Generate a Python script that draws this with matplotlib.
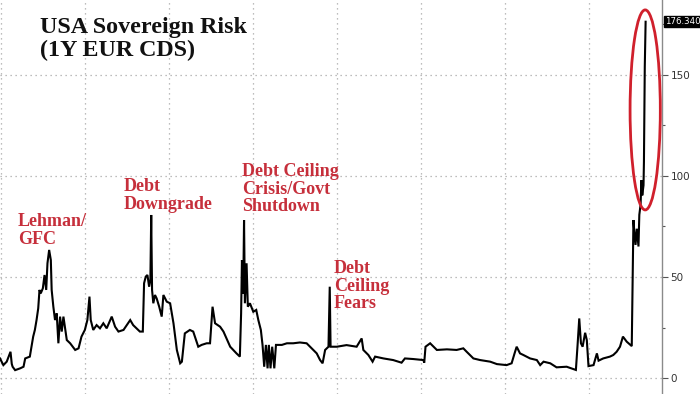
"""
USA sovereign risk, 1Y EUR CDS, with the debt ceiling spike circled.
"""
import matplotlib
matplotlib.use('Agg')
import matplotlib.pyplot as plt
from matplotlib.patches import Ellipse

# decimal years
years = [
    2008.00, 2008.08, 2008.16, 2008.25, 2008.28, 2008.30, 2008.36, 2008.48, 2008.56, 2008.60,
    2008.71, 2008.79, 2008.83, 2008.87, 2008.91, 2008.94, 2008.97, 2009.02, 2009.06, 2009.10,
    2009.13, 2009.17, 2009.21, 2009.23, 2009.27, 2009.31, 2009.35, 2009.39, 2009.43, 2009.47,
    2009.51, 2009.59, 2009.67, 2009.79, 2009.87, 2009.94, 2010.02, 2010.08, 2010.13, 2010.16,
    2010.22, 2010.30, 2010.38, 2010.46, 2010.54, 2010.66, 2010.74, 2010.82, 2010.94, 2011.10,
    2011.17, 2011.25, 2011.33, 2011.40, 2011.43, 2011.47, 2011.51, 2011.55, 2011.58, 2011.60,
    2011.62, 2011.65, 2011.69, 2011.73, 2011.79, 2011.85, 2011.89, 2011.97, 2012.05, 2012.13,
    2012.21, 2012.29, 2012.33, 2012.40, 2012.52, 2012.60, 2012.72, 2012.80, 2012.92, 2013.00,
    2013.06, 2013.12, 2013.24, 2013.32, 2013.48, 2013.63, 2013.71, 2013.74, 2013.76, 2013.79,
    2013.81, 2013.83, 2013.87, 2013.90, 2013.95, 2014.03, 2014.10, 2014.15, 2014.21, 2014.25,
    2014.29, 2014.33, 2014.37, 2014.40, 2014.44, 2014.48, 2014.53, 2014.57, 2014.71, 2014.83,
    2014.98, 2015.14, 2015.30, 2015.42, 2015.54, 2015.62, 2015.68, 2015.74, 2015.82, 2015.85,
    2015.87, 2016.02, 2016.25, 2016.49, 2016.61, 2016.65, 2016.77, 2016.87, 2016.93, 2017.13,
    2017.36, 2017.56, 2017.64, 2017.84, 2018.08, 2018.10, 2018.13, 2018.24, 2018.40, 2018.64,
    2018.87, 2019.03, 2019.11, 2019.27, 2019.43, 2019.67, 2019.83, 2020.06, 2020.18, 2020.25,
    2020.30, 2020.38, 2020.46, 2020.62, 2020.78, 2020.86, 2020.94, 2021.10, 2021.25, 2021.49,
    2021.71, 2021.75, 2021.79, 2021.83, 2021.87, 2021.93, 2021.97, 2022.01, 2022.13, 2022.21,
    2022.25, 2022.36, 2022.52, 2022.60, 2022.68, 2022.76, 2022.83, 2022.92, 2023.04, 2023.08,
    2023.10, 2023.13, 2023.16, 2023.20, 2023.22, 2023.25, 2023.27, 2023.29, 2023.32, 2023.33,
    2023.35, 2023.37,
]
cds = [
    9.7, 6.4, 8.1, 13.0, 7.0, 5.6, 3.9, 4.8, 5.6, 9.7,
    10.6, 20.5, 23.8, 28.7, 34.5, 43.6, 41.9, 44.4, 51.0, 43.6,
    56.8, 63.4, 58.4, 43.6, 35.3, 28.7, 32.0, 17.2, 30.4, 23.0,
    30.4, 18.8, 17.2, 13.9, 14.7, 20.5, 23.8, 28.7, 40.3, 28.7,
    23.8, 26.2, 24.6, 27.1, 24.6, 30.4, 25.4, 23.0, 23.8, 28.7,
    26.2, 24.6, 23.0, 23.0, 46.9, 50.2, 51.0, 45.2, 48.5, 80.7,
    43.6, 37.0, 41.1, 39.4, 35.3, 30.4, 41.1, 37.8, 37.0, 27.1,
    13.9, 7.3, 8.1, 22.1, 23.8, 23.0, 15.5, 16.4, 17.2, 17.2,
    35.3, 27.1, 25.4, 23.0, 15.5, 12.2, 10.6, 32.0, 58.4, 41.9,
    78.2, 37.0, 56.8, 35.3, 37.0, 32.8, 33.7, 28.7, 23.8, 16.4,
    5.6, 16.4, 4.8, 16.4, 4.8, 15.5, 4.8, 16.4, 16.4, 17.2,
    17.2, 17.6, 17.2, 14.7, 12.2, 8.9, 7.3, 13.9, 15.5, 45.2,
    15.5, 15.5, 16.3, 15.5, 19.6, 13.9, 11.4, 8.1, 10.6, 9.7,
    8.9, 7.6, 9.7, 9.4, 8.9, 7.6, 15.5, 17.2, 13.9, 14.2,
    13.9, 14.7, 13.0, 9.7, 8.9, 8.1, 6.9, 6.4, 7.3, 12.2,
    15.5, 12.2, 11.4, 9.7, 8.9, 6.4, 8.1, 7.3, 5.3, 5.6,
    4.0, 16.3, 29.5, 17.2, 15.5, 22.4, 18.8, 5.9, 6.4, 12.2,
    8.6, 9.7, 10.6, 11.4, 13.0, 15.5, 20.5, 18.0, 15.8, 78.2,
    72.6, 65.9, 73.9, 65.1, 80.8, 85.8, 97.9, 90.4, 95.4, 107.0,
    154.1, 176.34,
]

y_ticks = [0, 50, 100, 150]
grid_years = [2008, 2010, 2012, 2014, 2016, 2018, 2020, 2022]

title = 'USA Sovereign Risk\n(1Y EUR CDS)'
events = [
    ('Lehman/\nGFC', 2008.43, 81.7),
    ('Debt\nDowngrade', 2010.95, 99.0),
    ('Debt Ceiling\nCrisis/Govt\nShutdown', 2013.76, 106.4),
    ('Debt\nCeiling\nFears', 2015.95, 58.4),
]

RED = '#c62f3b'
GRID = '#a8a8a8'

fig = plt.figure(figsize=(7, 3.94), dpi=100)
ax = fig.add_axes([0, 0, 662 / 700, 1])

ax.plot(years, cds, color='black', linewidth=1.5, solid_joinstyle='miter')

ax.set_xlim(2008.0, 2023.76)
ax.set_ylim(-7.9, 187.1)

# grid
for g in grid_years:
    ax.axvline(g + 0.02, color=GRID, linestyle=(0, (1, 3)), linewidth=0.9, zorder=0)
for t in y_ticks:
    ax.axhline(t, color=GRID, linestyle=(0, (1, 3)), linewidth=0.9, zorder=0)

# right axis only
for s in ['left', 'top', 'bottom']:
    ax.spines[s].set_visible(False)
ax.spines['right'].set_color('#8a8a8a')
ax.spines['right'].set_linewidth(1.0)
ax.yaxis.tick_right()
ax.set_yticks(y_ticks)
ax.set_yticks([25, 75, 125, 175], minor=True)
ax.tick_params(axis='y', which='major', direction='out', length=4, width=0.8,
               colors='#555555', labelcolor='#333333', labelsize=7.5, pad=2)
ax.tick_params(axis='y', which='minor', direction='out', length=2.5, width=0.8,
               colors='#555555')
ax.set_xticks([])

# last value tag
ax.text(1.005, cds[-1], '%.3f' % cds[-1], transform=ax.get_yaxis_transform(),
        ha='left', va='center', color='white', fontsize=6.2, clip_on=False,
        bbox=dict(boxstyle='square,pad=0.12', fc='black', ec='black'))

# title and event labels
ax.text(0.060, 0.958, title, transform=ax.transAxes, ha='left', va='top',
        fontsize=17.3, fontweight='bold', family='Liberation Serif',
        color='#111111', linespacing=1.12)
for label, x, y in events:
    ax.text(x, y, label, ha='left', va='top', fontsize=13, fontweight='bold',
            family='Liberation Serif', color=RED, linespacing=1.05)

# circle the recent spike
ax.add_patch(Ellipse((2023.36, 132.7), 0.72, 99, fill=False,
                     edgecolor='#d0202c', linewidth=2.0, zorder=5))

plt.savefig('out.png', dpi=100)
